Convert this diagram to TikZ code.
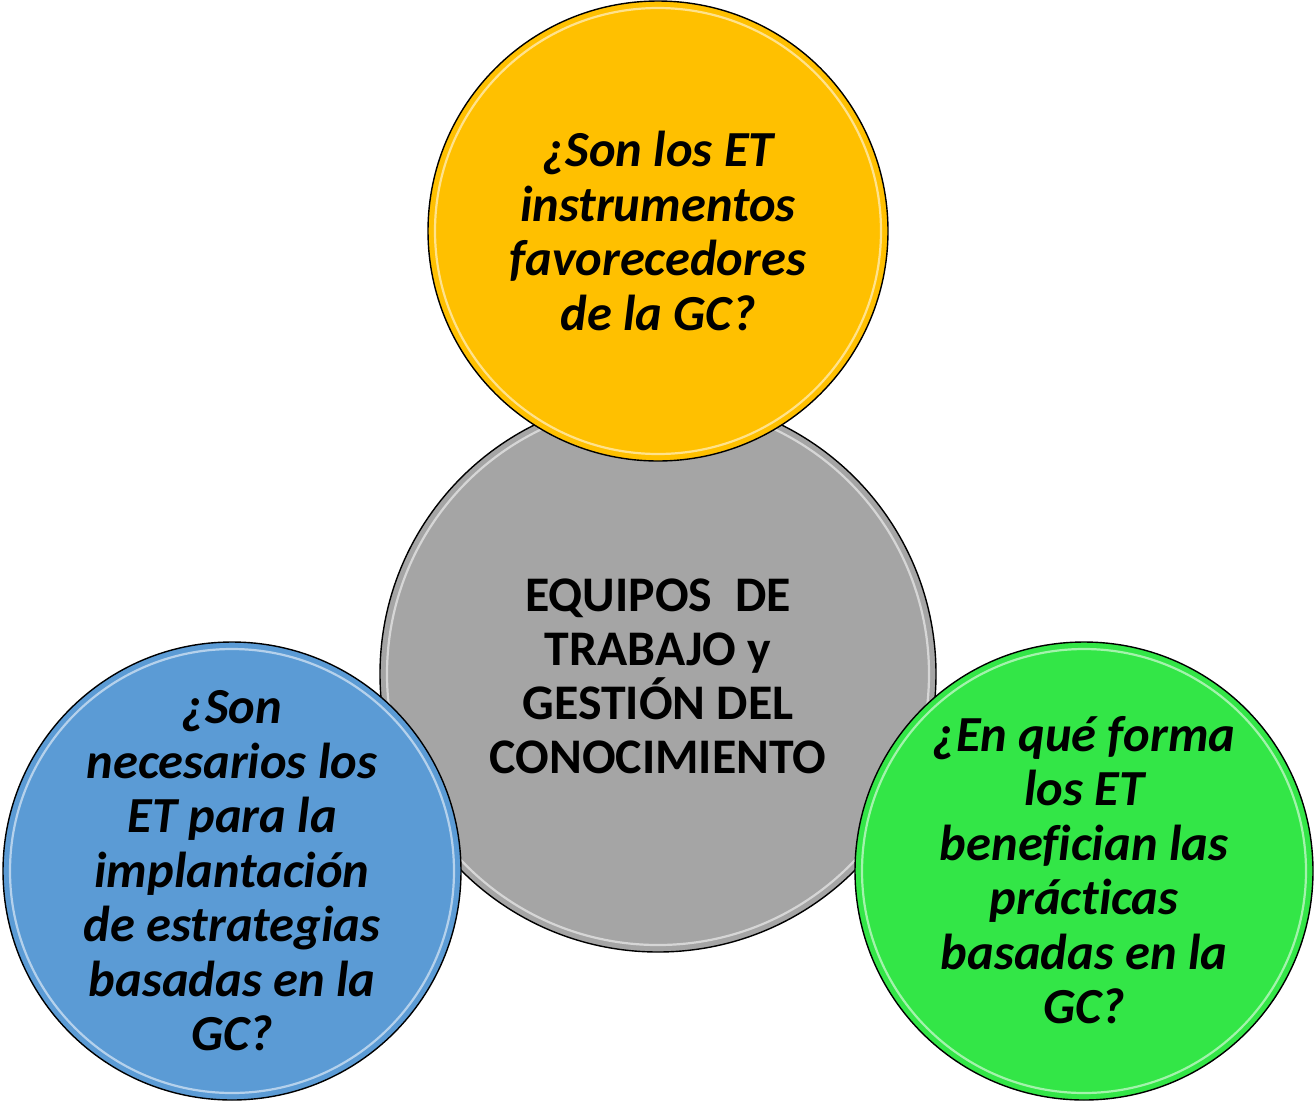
\documentclass[tikz,border=0pt]{standalone}
\usepackage{fontspec}
\setmainfont{Carlito}[Ligatures=CommonOff]
\definecolor{cyellow}{HTML}{FFC000}
\definecolor{cblue}{HTML}{5B9BD5}
\definecolor{cgreen}{HTML}{33E647}
\definecolor{cgray}{HTML}{A5A5A5}
\tikzset{
  disc/.style={circle, draw=black, line width=1.4pt, inner sep=0pt},
  qtext/.style={align=center, inner sep=0pt, font=\fontsize{50.5}{54.5}\selectfont\bfseries\itshape},
  ctext/.style={align=center, inner sep=0pt, font=\fontsize{49.8}{54}\selectfont\bfseries},
  gloss/.style={draw=white, line width=2.2pt, opacity=0.55}
}
\begin{document}
\begin{tikzpicture}[x=1pt,y=-1pt]
\useasboundingbox (0,0) rectangle (1315,1101);
% centre disc
\node[disc, fill=cgray, minimum size=556pt] (mid) at (658,674) {};
\draw[gloss] (mid.center) circle[radius=271pt];
% top disc
\node[disc, fill=cyellow, minimum size=460pt] (top) at (658,231) {};
\draw[gloss] (top.center) circle[radius=223pt];
% left disc
\node[disc, fill=cblue, minimum size=458pt] (left) at (232,871) {};
\draw[gloss] (left.center) circle[radius=222pt];
% right disc
\node[disc, fill=cgreen, minimum size=458pt] (right) at (1084,871) {};
\draw[gloss] (right.center) circle[radius=222pt];
% texts
\node[ctext] (midt) at (658,676) {EQUIPOS\ \ DE\\TRABAJO y\\GESTIÓN DEL\\CONOCIMIENTO};
\node[qtext] (topt) at (658,231) {¿Son los ET\\instrumentos\\favorecedores\\de la GC?};
\node[qtext] (leftt) at (232,871) {¿Son\\necesarios los\\ET para la\\implantación\\de estrategias\\basadas en la\\GC?};
\node[qtext] (rightt) at (1084,870) {¿En qué forma\\los ET\\benefician las\\prácticas\\basadas en la\\GC?};
\end{tikzpicture}
\end{document}
